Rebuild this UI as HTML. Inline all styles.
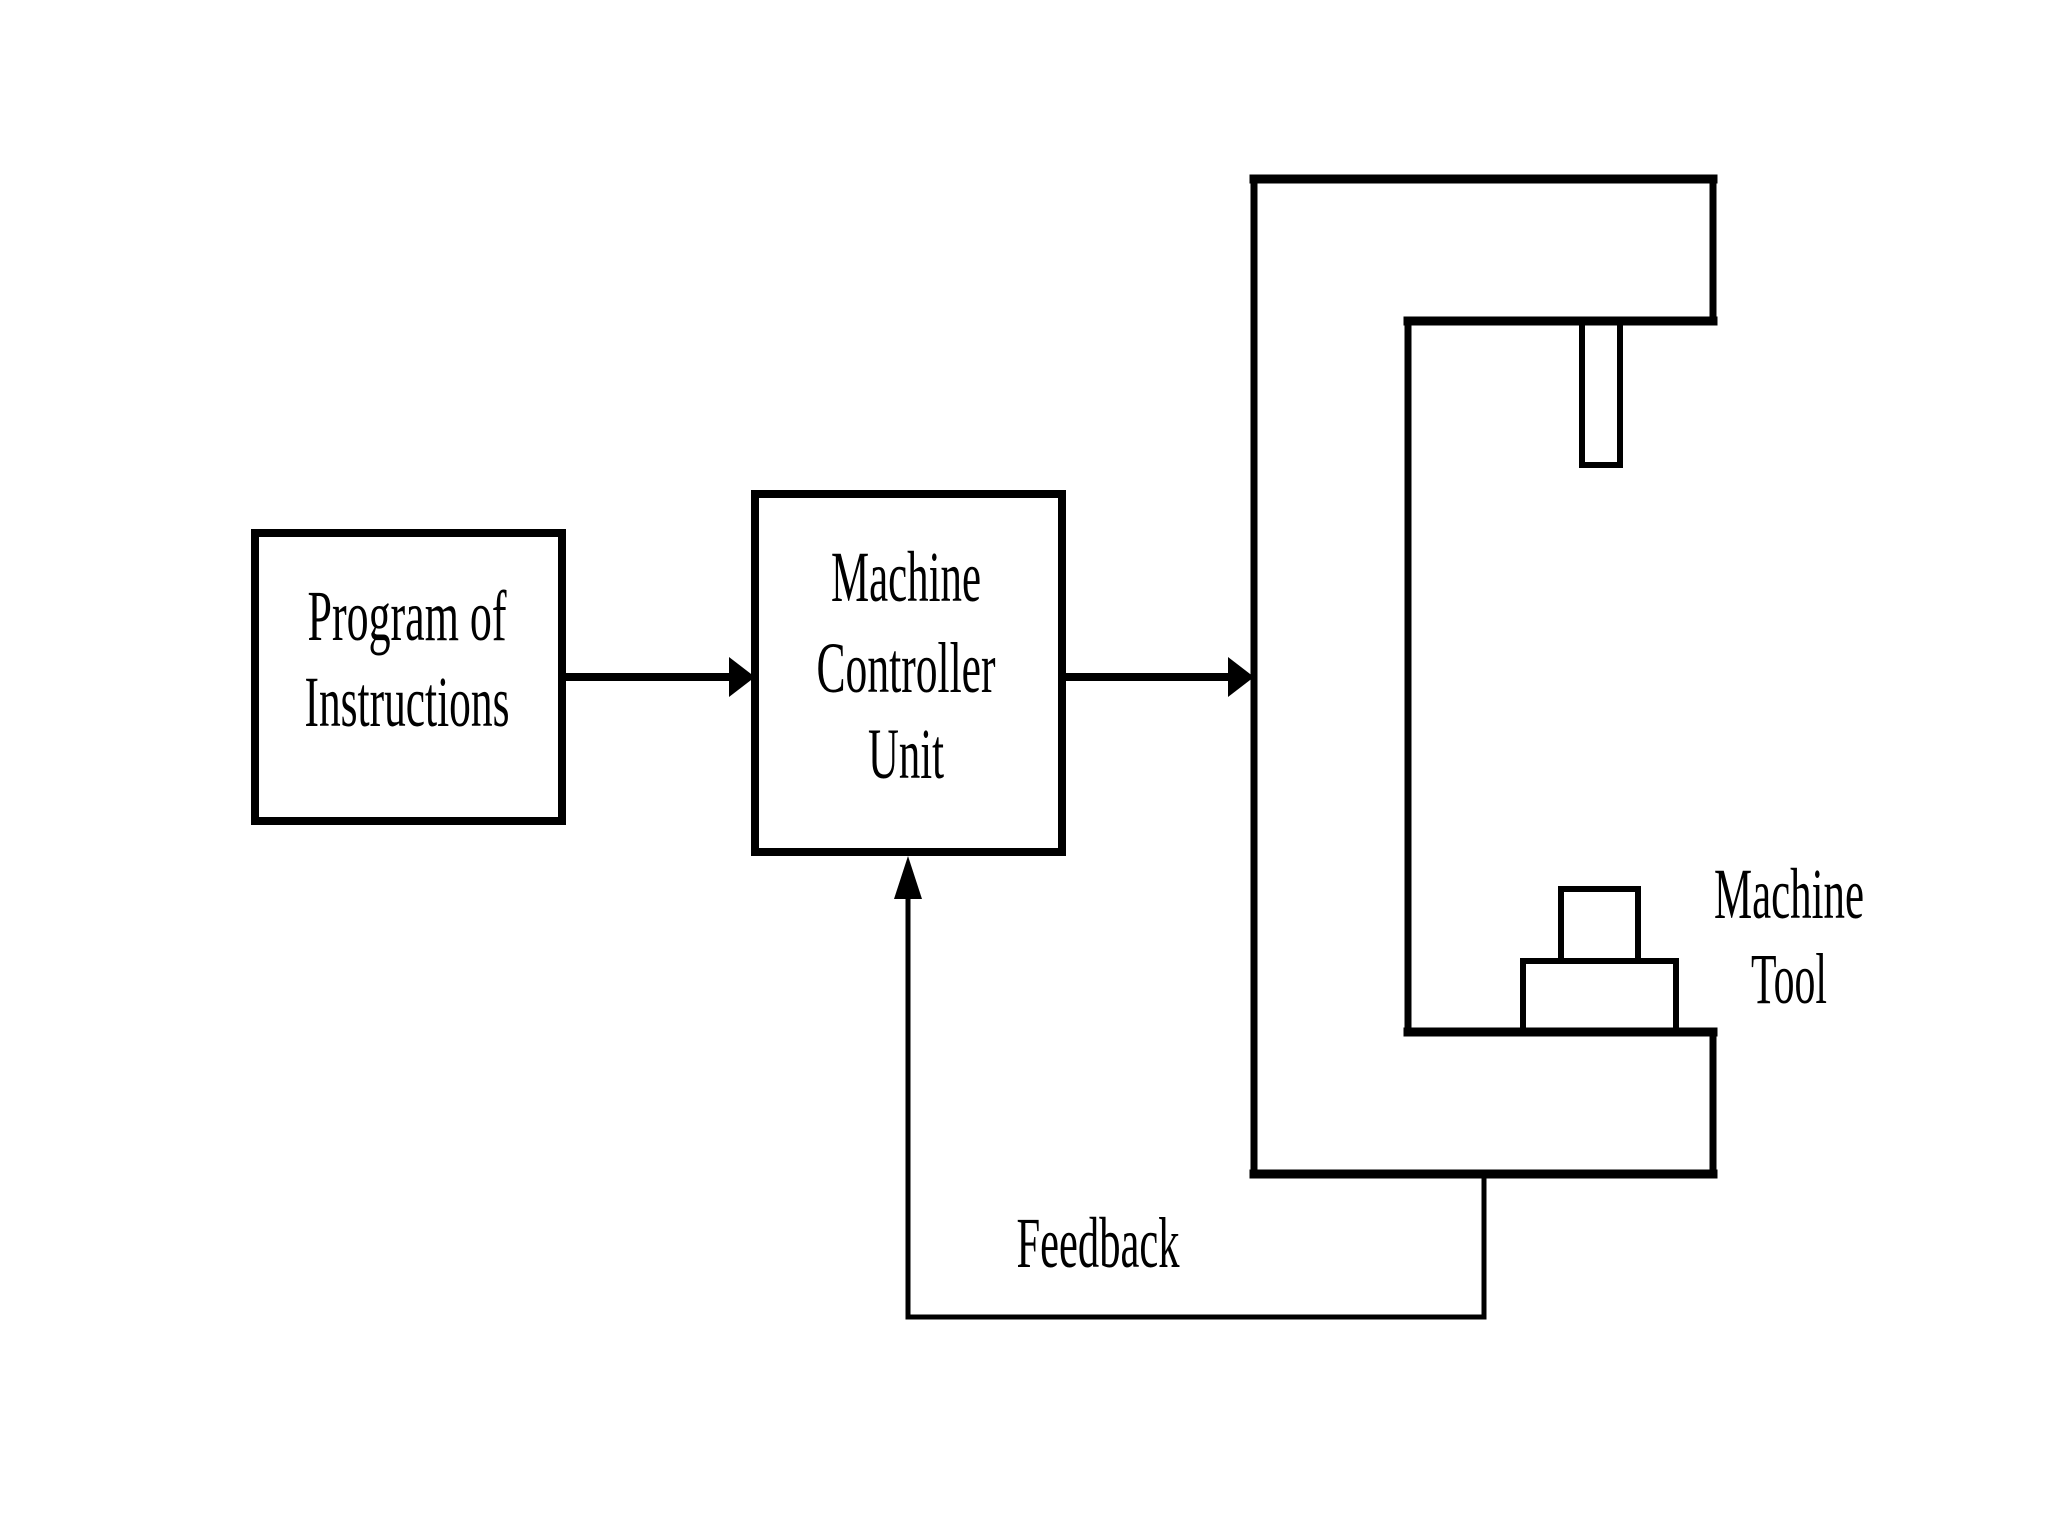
<!DOCTYPE html>
<html><head><meta charset="utf-8"><style>html,body{margin:0;padding:0;background:#fff}svg{display:block}</style></head>
<body>
<svg width="2048" height="1536" viewBox="0 0 2048 1536" xmlns="http://www.w3.org/2000/svg">
<g fill="none" stroke="#000" stroke-linecap="square">
<rect x="255" y="533" width="307" height="288" stroke-width="8"/>
<rect x="755" y="494" width="307" height="358" stroke-width="8"/>
<line x1="562" y1="677" x2="735" y2="677" stroke-width="8"/>
<line x1="1062" y1="677" x2="1232" y2="677" stroke-width="8"/>
<path d="M1254 179 H1713 V321 H1408 V1032 H1713 V1174 H1254 Z" stroke-width="7"/>
<path d="M1254 179 H1713 M1408 321 H1713 M1408 1032 H1713 M1254 1174 H1713" stroke-width="9"/>
<rect x="1582" y="321" width="38" height="144" stroke-width="6"/>
<rect x="1523" y="961" width="153" height="71" stroke-width="6"/>
<rect x="1561" y="889" width="77" height="72" stroke-width="6"/>
<path d="M1484 1174 V1317 H908 V885" stroke-width="5"/>
</g>
<polygon points="755,677 729,657 729,697" fill="#000"/>
<polygon points="1254,677 1228,657 1228,697" fill="#000"/>
<polygon points="908,856 894,899 922,899" fill="#000"/>
<g font-family="Liberation Serif, serif" font-size="72" fill="#000" text-anchor="middle">
<text x="407" y="640" textLength="199" lengthAdjust="spacingAndGlyphs">Program of</text>
<text x="407" y="726" textLength="205" lengthAdjust="spacingAndGlyphs">Instructions</text>
<text x="906" y="601" textLength="150" lengthAdjust="spacingAndGlyphs">Machine</text>
<text x="906" y="692" textLength="179" lengthAdjust="spacingAndGlyphs">Controller</text>
<text x="906" y="778" textLength="76" lengthAdjust="spacingAndGlyphs">Unit</text>
<text x="1098" y="1267" textLength="163" lengthAdjust="spacingAndGlyphs">Feedback</text>
<text x="1789" y="918" textLength="150" lengthAdjust="spacingAndGlyphs">Machine</text>
<text x="1789" y="1003" textLength="76" lengthAdjust="spacingAndGlyphs">Tool</text>
</g>
</svg>
</body></html>
